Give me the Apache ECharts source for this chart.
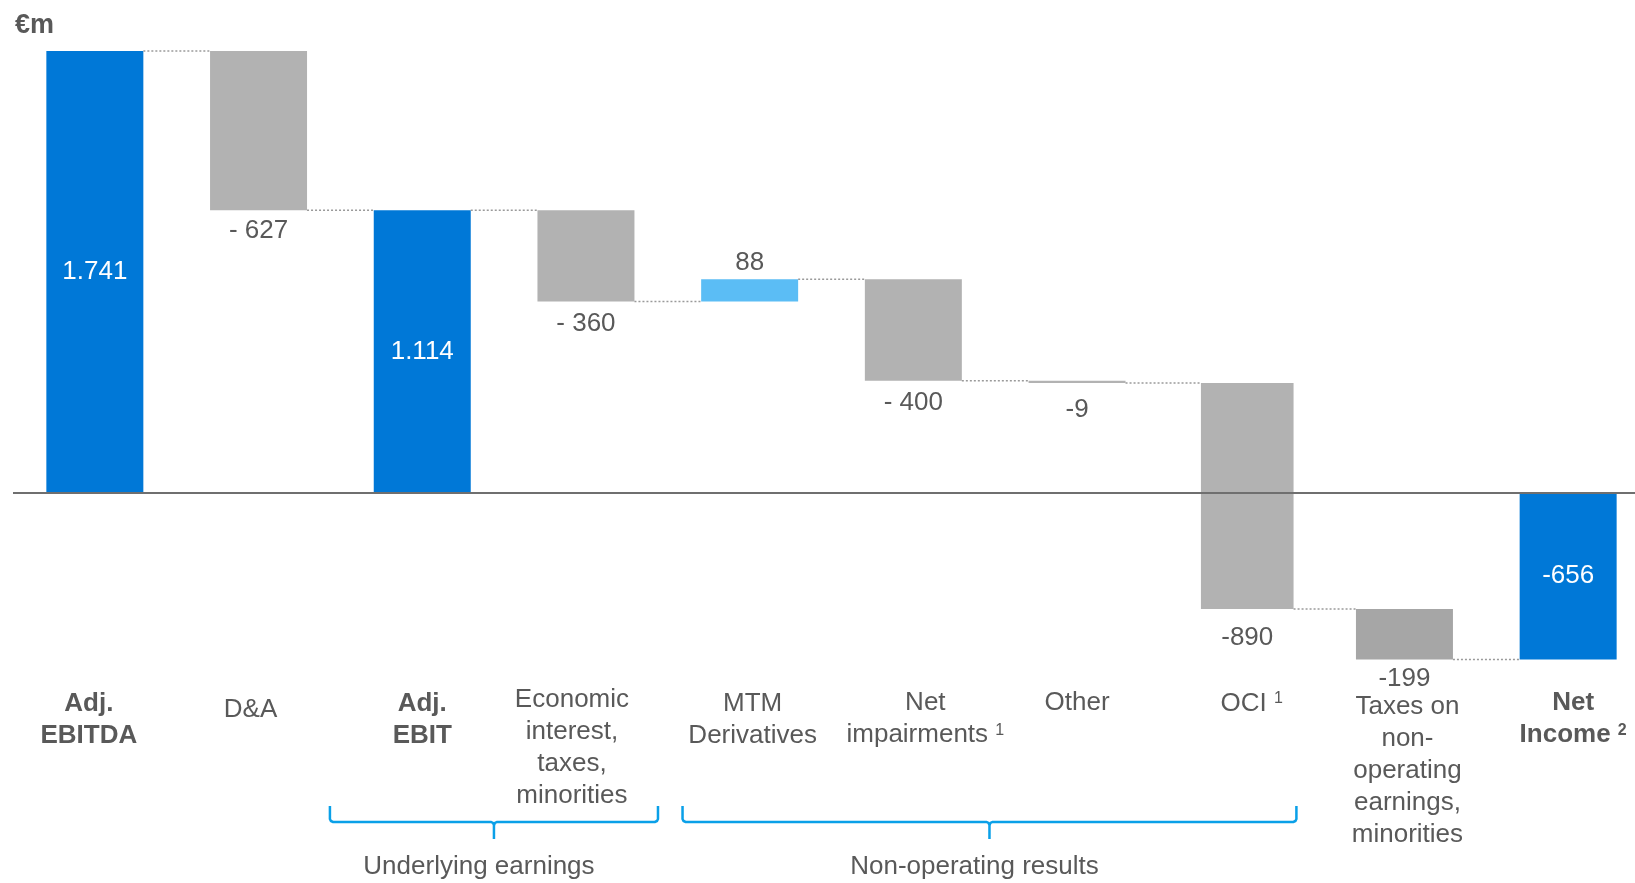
<!DOCTYPE html>
<html>
<head>
<meta charset="utf-8">
<script src="https://cdn.jsdelivr.net/npm/echarts@6/dist/echarts.min.js"></script>
<style>
  html, body { margin: 0; padding: 0; background: #fff; }
  #chart { width: 1635px; height: 883px; }
</style>
</head>
<body>
<div id="chart"></div>
<script>
const categories = ['Adj.\nEBITDA', 'D&A', 'Adj.\nEBIT', 'Economic\ninterest,\ntaxes,\nminorities', 'MTM\nDerivatives',
  'Net\nimpairments', 'Other', 'OCI', 'Taxes on\nnon-\noperating\nearnings,\nminorities', 'Net\nIncome'];
const footnotes = ['', '', '', '', '', '1', '', '1', '', '2'];
const values = [1741, -627, 1114, -360, 88, -400, -9, -890, -199, -656];
const isTotal = [true, false, true, false, false, false, false, false, false, true];
const valueLabels = ['1.741', '- 627', '1.114', '- 360', '88', '- 400', '-9', '-890', '-199', '-656'];
const bracketGroups = [
  { name: 'Underlying earnings', first: 2, last: 3 },
  { name: 'Non-operating results', first: 4, last: 7 }
];

const FONT = '"Liberation Sans", Arial, sans-serif';
const TEXT = '#595959';

// waterfall: totals start from 0, deltas from the running total
let running = 0;
const bars = values.map((v, i) => {
  const start = isTotal[i] ? 0 : running;
  const end = isTotal[i] ? v : running + v;
  running = end;
  return [i, start, end];
});

function barColor(i) {
  if (isTotal[i]) return '#0078D7';
  if (values[i] > 0) return '#5BBDF5';
  if (i === 8) return '#A6A6A6';
  return '#B2B2B2';
}

// distance of the value label centre from the bar edge, px
const labelGap = [0, 21, 0, 22, 16, 22, 27, 29, 19, 0];
// the OCI bar sits a little right and is a little narrower in the original slide
const barTweak = { 7: { dx: 6.5, scale: 0.955 } };

function renderBar(params, api) {
  const i = api.value(0);
  const start = api.value(1);
  const end = api.value(2);
  const band = api.size([1, 0])[0];
  const tw = barTweak[i] || { dx: 0, scale: 1 };
  const w = band * 0.5925 * tw.scale;
  const p0 = api.coord([i, start]);
  const p1 = api.coord([i, end]);
  const cx = p0[0] + tw.dx;
  const top = Math.min(p0[1], p1[1]);
  const h = Math.max(Math.abs(p1[1] - p0[1]), 1);
  const x = cx - w / 2;
  const children = [{
    type: 'rect',
    shape: { x: x, y: top, width: w, height: h },
    style: { fill: barColor(i) }
  }];

  let ly;
  let fill = TEXT;
  if (isTotal[i]) {
    ly = top + h / 2;
    fill = '#fff';
  } else if (values[i] > 0) {
    ly = top - labelGap[i];
  } else {
    ly = top + h + labelGap[i];
  }
  children.push({
    type: 'text',
    x: cx,
    y: ly,
    style: {
      text: valueLabels[i], fill: fill, fontSize: 26, fontFamily: FONT,
      align: 'center', verticalAlign: 'middle'
    }
  });

  if (i < values.length - 1) {
    const nb = barTweak[i + 1] || { dx: 0, scale: 1 };
    const nx = api.coord([i + 1, end])[0] + nb.dx - band * 0.5925 * nb.scale / 2;
    children.push({
      type: 'line',
      shape: { x1: x + w, y1: p1[1], x2: nx, y2: p1[1] },
      style: { stroke: '#9a9a9a', lineWidth: 1.5, lineDash: [2, 2] }
    });
  }
  return { type: 'group', children: children };
}

// how far each brace reaches past its first / last category centre (in bands)
const braceReach = [[0.564, 0.44], [0.41, 0.34]];

function renderBrace(params, api) {
  const k = params.dataIndex;
  const band = api.size([1, 0])[0];
  const a = api.coord([api.value(0), 0]);
  const b = api.coord([api.value(1), 0]);
  const zeroY = a[1];
  const xL = a[0] - braceReach[k][0] * band;
  const xR = b[0] + braceReach[k][1] * band;
  const xm = (xL + xR) / 2;
  const yt = zeroY + 313;
  const yb = zeroY + 329;
  const ytick = zeroY + 346;
  const stroke = { stroke: '#0AA0E8', lineWidth: 2.5, fill: null };
  return {
    type: 'group',
    children: [
      { type: 'polyline', shape: { points: [[xL, yt], [xL, yb - 3], [xL + 1, yb - 1], [xL + 3, yb], [xm - 3, yb], [xm - 1, yb + 1], [xm, yb + 3], [xm, ytick]] }, style: stroke },
      { type: 'polyline', shape: { points: [[xm, yb + 3], [xm + 1, yb + 1], [xm + 3, yb], [xR - 3, yb], [xR - 1, yb - 1], [xR, yb - 3], [xR, yt]] }, style: stroke },
      {
        type: 'text', x: xm - 15, y: zeroY + 374,
        style: { text: bracketGroups[k].name, fill: TEXT, fontSize: 26, fontFamily: FONT, align: 'center', verticalAlign: 'middle' }
      }
    ]
  };
}

// small per-label shifts [dx, dy] so each category label lands where the slide has it
const labelNudge = [[-6, 1], [-8, 7], [0, 1], [-14, -3], [3, 1], [12, 0], [0, 0], [11, 1], [3, 4], [5, 0]];

const rich = {
  sup: { fontSize: 16, lineHeight: 20, verticalAlign: 'top', color: TEXT, fontFamily: FONT, padding: [4, 0, 0, 0] },
  supb: { fontSize: 16, lineHeight: 20, verticalAlign: 'top', color: TEXT, fontFamily: FONT, fontWeight: 'bold', padding: [4, 0, 0, 0] }
};
categories.forEach((c, i) => {
  const dx = labelNudge[i][0];
  const dy = labelNudge[i][1];
  rich['c' + i] = {
    fontSize: 26, lineHeight: 32, color: TEXT, fontFamily: FONT,
    fontWeight: isTotal[i] ? 'bold' : 'normal',
    padding: [Math.max(0, 2 * dy), Math.max(0, -2 * dx), Math.max(0, -2 * dy), Math.max(0, 2 * dx)]
  };
});

const chart = echarts.init(document.getElementById('chart'));
chart.setOption({
  animation: false,
  backgroundColor: '#fff',
  title: {
    text: '€m', left: 10, top: 7,
    textStyle: { fontSize: 27, fontWeight: 'bold', color: TEXT, fontFamily: FONT }
  },
  // grid bottom sits just above the category labels; zero line drawn by markLine
  grid: { left: 13, top: 10.6, width: 1637, height: 663.4, containLabel: false, outerBoundsMode: 'none' },
  xAxis: {
    type: 'category',
    data: categories,
    position: 'bottom',
    axisTick: { show: false },
    axisLine: { show: false, onZero: false },
    axisLabel: {
      interval: 0,
      margin: 13,
      fontSize: 26,
      fontFamily: FONT,
      color: TEXT,
      formatter: (value, idx) => {
        let s = value.split('\n').map((l) => `{c${idx}|${l}}`).join('\n');
        if (footnotes[idx]) s += ` {${isTotal[idx] ? 'supb' : 'sup'}|${footnotes[idx]}}`;
        return s;
      },
      rich: rich
    }
  },
  yAxis: {
    type: 'value',
    min: -713,
    max: 1900,
    show: false,
    splitLine: { show: false }
  },
  series: [
    {
      type: 'custom',
      renderItem: renderBar,
      encode: { x: 0, y: [1, 2] },
      data: bars,
      z: 3,
      markLine: {
        silent: true,
        symbol: 'none',
        label: { show: false },
        lineStyle: { color: '#6f6f6f', width: 2, type: 'solid' },
        data: [{ yAxis: 0 }],
        z: 4
      }
    },
    {
      type: 'custom',
      renderItem: renderBrace,
      encode: { x: [0, 1] },
      data: bracketGroups.map((g) => [g.first, g.last]),
      z: 2
    }
  ]
});
</script>
</body>
</html>
